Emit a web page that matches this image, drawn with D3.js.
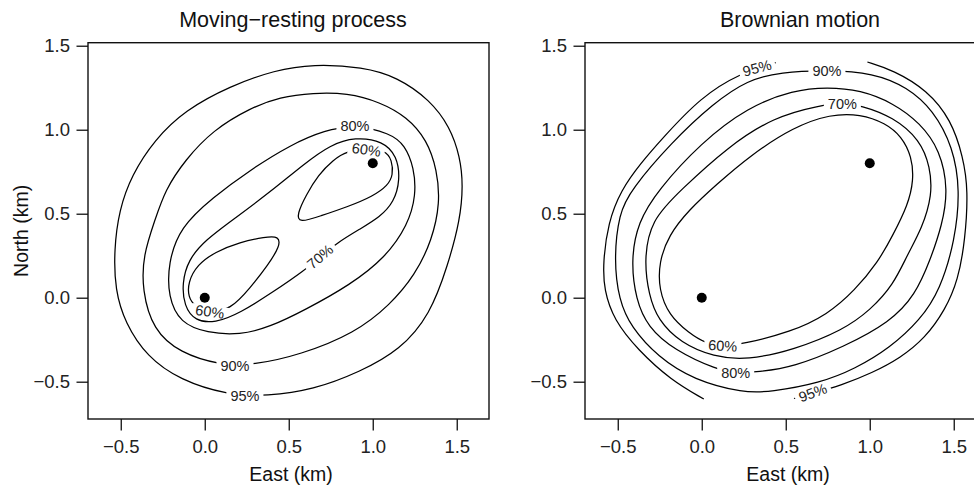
<!DOCTYPE html>
<html><head><meta charset="utf-8">
<script src="https://cdn.jsdelivr.net/npm/d3@7"></script>
<style>
body{margin:0;background:#fff}
svg text{font-family:"Liberation Sans",Arial,Helvetica,sans-serif;fill:#111}
</style>
</head><body>
<svg id="chart" width="974" height="488"></svg>
<script>
// ---------- data (km) ----------
const xTicks = [-0.5, 0.0, 0.5, 1.0, 1.5];
const yTicks = [-0.5, 0.0, 0.5, 1.0, 1.5];
const xDomain = [-0.695, 1.692];
const yDomain = [-0.722, 1.518];
const panelTitles = ["Moving\u2212resting process", "Brownian motion"];
const xLabel = "East (km)";
const yLabel = "North (km)";
const locations = [[0, 0], [1, 0.8]];

// Moving-resting process contours
const mr95 = [[0.645,1.391],[0.942,1.373],[1.145,1.314],[1.341,1.177],[1.460,1.016],[1.520,0.838],[1.538,0.671],[1.520,0.463],[1.448,0.195],[1.341,-0.103],[1.163,-0.311],[0.924,-0.442],[0.645,-0.549],[0.371,-0.585],[0.133,-0.579],[-0.147,-0.490],[-0.343,-0.353],[-0.474,-0.151],[-0.534,0.046],[-0.540,0.284],[-0.510,0.522],[-0.435,0.730],[-0.300,0.939],[-0.117,1.117],[0.151,1.260],[0.418,1.355]];
const mr90 = [[0.645,1.219],[0.847,1.219],[1.043,1.165],[1.204,1.076],[1.323,0.939],[1.383,0.760],[1.401,0.564],[1.353,0.343],[1.252,0.135],[1.103,-0.043],[0.895,-0.210],[0.567,-0.341],[0.288,-0.401],[0.091,-0.401],[-0.147,-0.329],[-0.308,-0.192],[-0.373,0.046],[-0.367,0.254],[-0.296,0.463],[-0.236,0.641],[-0.117,0.820],[0.049,0.998],[0.270,1.129],[0.448,1.195]];
const mr80 = [[0.895,1.028],[1.103,0.980],[1.192,0.909],[1.246,0.772],[1.258,0.611],[1.210,0.433],[1.073,0.236],[0.865,0.076],[0.597,-0.073],[0.389,-0.174],[0.210,-0.222],[0.014,-0.210],[-0.147,-0.151],[-0.218,0.004],[-0.218,0.207],[-0.147,0.420],[0.049,0.598],[0.270,0.760],[0.508,0.909],[0.716,0.998]];
const mr70 = [[0.895,0.957],[1.061,0.933],[1.145,0.843],[1.163,0.701],[1.127,0.570],[1.043,0.480],[0.924,0.409],[0.787,0.326],[0.686,0.242],[0.597,0.165],[0.407,0.034],[0.210,-0.091],[0.061,-0.151],[-0.058,-0.139],[-0.123,-0.049],[-0.135,0.087],[-0.099,0.224],[0.002,0.343],[0.181,0.474],[0.389,0.629],[0.597,0.801],[0.746,0.909]];
const mr60a = [[0.962,0.885],[1.073,0.879],[1.115,0.820],[1.121,0.730],[1.091,0.670],[1.002,0.604],[0.847,0.540],[0.686,0.486],[0.561,0.444],[0.549,0.497],[0.603,0.611],[0.675,0.730],[0.764,0.820],[0.847,0.873]];
const mr60b = [[0.031,-0.085],[0.151,-0.073],[0.270,0.058],[0.377,0.195],[0.448,0.308],[0.442,0.367],[0.359,0.361],[0.210,0.332],[0.061,0.272],[-0.046,0.195],[-0.099,0.093],[-0.099,0.004],[-0.058,-0.055]];
// label [east, north, angle]
const mrLabels95 = [[0.239,-0.585,0]];
const mrLabels90 = [[0.180,-0.405,0]];
const mrLabels80 = [[0.894,1.022,0]];
const mrLabels70 = [[0.686,0.245,-40]];
const mrLabels60a = [[0.962,0.882,8]];
const mrLabels60b = [[0.031,-0.082,8]];

// Brownian motion contours
const bm95a = [[0.012,-0.603],[-0.184,-0.490],[-0.380,-0.311],[-0.523,-0.133],[-0.582,0.046],[-0.588,0.207],[-0.558,0.445],[-0.481,0.641],[-0.362,0.802],[-0.243,0.939],[-0.006,1.195],[0.232,1.338],[0.440,1.399]];
const bm95b = [[0.986,1.403],[1.140,1.355],[1.342,1.236],[1.485,1.058],[1.556,0.838],[1.586,0.641],[1.568,0.343],[1.526,0.105],[1.449,-0.073],[1.330,-0.240],[1.182,-0.359],[1.013,-0.448],[0.834,-0.520],[0.647,-0.573],[0.549,-0.600]];
const bm90 = [[0.469,1.343],[0.748,1.355],[1.021,1.338],[1.223,1.254],[1.378,1.117],[1.496,0.897],[1.538,0.641],[1.508,0.343],[1.419,0.046],[1.300,-0.133],[1.120,-0.299],[0.912,-0.424],[0.704,-0.508],[0.410,-0.561],[0.249,-0.567],[-0.048,-0.490],[-0.261,-0.353],[-0.422,-0.174],[-0.493,-0.014],[-0.523,0.224],[-0.493,0.504],[-0.422,0.641],[-0.184,0.921],[0.071,1.159],[0.273,1.296]];
const bm80 = [[-0.261,0.641],[-0.006,0.921],[0.273,1.135],[0.546,1.236],[0.748,1.254],[0.944,1.236],[1.140,1.159],[1.300,1.040],[1.419,0.879],[1.467,0.641],[1.431,0.433],[1.360,0.224],[1.271,0.016],[1.122,-0.145],[0.843,-0.294],[0.546,-0.413],[0.333,-0.442],[0.202,-0.448],[0.095,-0.430],[-0.166,-0.311],[-0.321,-0.174],[-0.392,-0.014],[-0.422,0.224],[-0.380,0.450]];
const bm70 = [[-0.125,0.641],[0.154,0.897],[0.428,1.076],[0.707,1.146],[0.837,1.159],[0.944,1.146],[1.140,1.076],[1.300,0.939],[1.360,0.778],[1.372,0.611],[1.312,0.415],[1.223,0.254],[1.140,0.076],[1.004,-0.073],[0.843,-0.192],[0.546,-0.311],[0.273,-0.371],[0.071,-0.353],[-0.125,-0.270],[-0.261,-0.133],[-0.315,0.016],[-0.344,0.224],[-0.303,0.462]];
const bm60 = [[0.024,-0.272],[0.125,-0.288],[0.243,-0.276],[0.529,-0.205],[0.750,-0.100],[0.911,0.044],[1.049,0.211],[1.138,0.373],[1.227,0.551],[1.262,0.700],[1.250,0.840],[1.190,0.960],[1.093,1.040],[0.944,1.093],[0.766,1.093],[0.546,1.016],[0.291,0.849],[0.083,0.670],[-0.077,0.522],[-0.196,0.373],[-0.255,0.212],[-0.255,0.046],[-0.196,-0.103],[-0.077,-0.210]];
const bmLabels95a = [[0.329,1.368,-15]];
const bmLabels95b = [[0.661,-0.565,-20]];
const bmLabels90 = [[0.745,1.352,0]];
const bmLabels80 = [[0.202,-0.445,0]];
const bmLabels70 = [[0.837,1.156,0]];
const bmLabels60 = [[0.125,-0.285,3]];

// ---------- build ----------
const panels = [
  {left: 88, title: panelTitles[0], titleX: 293, xlabX: 291, ylab: true, contours: [
    {lv:"95%", pts:mr95, closed:true, labels:mrLabels95},
    {lv:"90%", pts:mr90, closed:true, labels:mrLabels90},
    {lv:"80%", pts:mr80, closed:true, labels:mrLabels80},
    {lv:"70%", pts:mr70, closed:true, labels:mrLabels70},
    {lv:"60%", pts:mr60a, closed:true, labels:mrLabels60a},
    {lv:"60%", pts:mr60b, closed:true, labels:mrLabels60b}]},
  {left: 585, title: panelTitles[1], titleX: 800, xlabX: 788, ylab: false, contours: [
    {lv:"95%", pts:bm95a, closed:false, labels:bmLabels95a},
    {lv:"95%", pts:bm95b, closed:false, labels:bmLabels95b},
    {lv:"90%", pts:bm90, closed:true, labels:bmLabels90},
    {lv:"80%", pts:bm80, closed:true, labels:bmLabels80},
    {lv:"70%", pts:bm70, closed:true, labels:bmLabels70},
    {lv:"60%", pts:bm60, closed:true, labels:bmLabels60}]}
];

const plotTop = 42.7, W = 401, H = 376.3;
const svg = d3.select("#chart");
const defs = svg.append("defs");
const x = d3.scaleLinear().domain(xDomain).range([0, W]);
const y = d3.scaleLinear().domain(yDomain).range([H, 0]);
const fmt = v => d3.format(".1f")(v).replace("-", "\u2212");

panels.forEach((p, pi) => {
  const g = svg.append("g").attr("transform", `translate(${p.left},${plotTop})`);
  defs.append("clipPath").attr("id", "clip" + pi)
    .append("rect").attr("width", W).attr("height", H);
  const plot = g.append("g").attr("clip-path", `url(#clip${pi})`);
  const lineLayer = plot.append("g");
  const textLayer = plot.append("g");

  p.contours.forEach((c, ci) => {
    const mid = `mask${pi}_${ci}`;
    const mask = defs.append("mask").attr("id", mid)
      .attr("maskUnits", "userSpaceOnUse")
      .attr("x", -60).attr("y", -60).attr("width", W + 120).attr("height", H + 120);
    mask.append("rect").attr("x", -60).attr("y", -60)
      .attr("width", W + 120).attr("height", H + 120).attr("fill", "white");
    const line = d3.line().x(d => x(d[0])).y(d => y(d[1]))
      .curve(c.closed ? d3.curveBasisClosed : d3.curveBasis);
    lineLayer.append("path").attr("d", line(c.pts))
      .attr("fill", "none").attr("stroke", "#000").attr("stroke-width", 1.25)
      .attr("mask", `url(#${mid})`);
    c.labels.forEach(l => {
      const tr = `translate(${x(l[0])},${y(l[1])}) rotate(${l[2]})`;
      const t = textLayer.append("text").attr("transform", tr)
        .attr("text-anchor", "middle").attr("dy", "0.36em")
        .style("font-size", "14.5px").style("fill", "#222").text(c.lv);
      const w = t.node().getComputedTextLength();
      mask.append("rect").attr("transform", tr)
        .attr("x", -w / 2 - 4).attr("y", -6).attr("width", w + 8).attr("height", 12)
        .attr("fill", "black");
    });
  });

  plot.selectAll("circle.loc").data(locations).join("circle")
    .attr("class", "loc").attr("cx", d => x(d[0])).attr("cy", d => y(d[1]))
    .attr("r", 5).attr("fill", "#000");

  g.append("rect").attr("width", W).attr("height", H)
    .attr("fill", "none").attr("stroke", "#111").attr("stroke-width", 1.4);

  const ax = g.append("g").attr("transform", `translate(0,${H})`)
    .call(d3.axisBottom(x).tickValues(xTicks).tickFormat(fmt).tickSize(11.5).tickPadding(9));
  const ay = g.append("g")
    .call(d3.axisLeft(y).tickValues(yTicks).tickFormat(fmt).tickSize(11.5).tickPadding(6.5));
  [ax, ay].forEach(a => {
    a.select(".domain").remove();
    a.attr("font-family", null).attr("font-size", null);
    a.selectAll(".tick line").attr("stroke", "#111").attr("stroke-width", 1.3);
    a.selectAll(".tick text").style("font-size", "18.5px").style("fill", "#222");
  });

  svg.append("text").attr("x", p.titleX).attr("y", 27)
    .attr("text-anchor", "middle").style("font-size", "21.5px").text(p.title);
  svg.append("text").attr("x", p.xlabX).attr("y", 481)
    .attr("text-anchor", "middle").style("font-size", "19.5px").text(xLabel);
  if (p.ylab) {
    svg.append("text").attr("transform", `translate(28,${plotTop + H / 2}) rotate(-90)`)
      .attr("text-anchor", "middle").style("font-size", "19.5px").text(yLabel);
  }
});
</script>
</body></html>
